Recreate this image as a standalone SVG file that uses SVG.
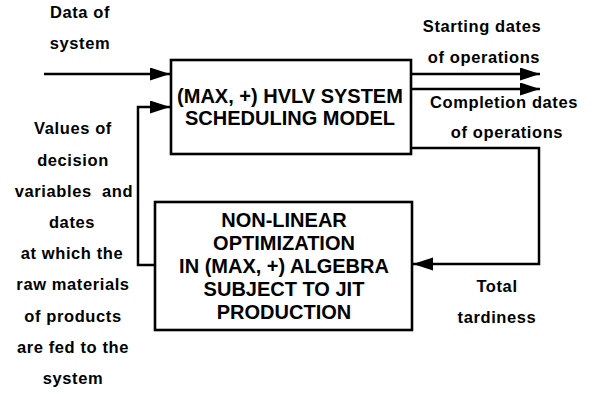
<svg xmlns="http://www.w3.org/2000/svg" width="594" height="394" viewBox="0 0 594 394">
<defs>
<style>
.box{fill:#fff;stroke:#000;stroke-width:2.6}
.bt{font-family:"Liberation Sans",Arial,sans-serif;font-size:20px;font-weight:bold;fill:#000;text-anchor:middle}
.lb{font-family:"Liberation Sans",Arial,sans-serif;font-size:16.5px;font-weight:bold;fill:#000;text-anchor:middle;letter-spacing:0.6px}
.ln{fill:none;stroke:#000;stroke-width:2.5;marker-end:url(#ah)}
</style>
<marker id="ah" markerUnits="userSpaceOnUse" markerWidth="21" markerHeight="14" refX="20" refY="6.5" orient="auto">
<path d="M0,0 L20,6.5 L0,13 z" fill="#000"/>
</marker>
</defs>
<rect width="594" height="394" fill="#fff"/>
<g id="connectors">
<path class="ln" d="M44,74 H170"/>
<path class="ln" d="M156,265 H138 V107 H170"/>
<path class="ln" d="M412,74 H540"/>
<path class="ln" d="M412,89 H540"/>
<path class="ln" d="M412,148 H539 V264 H413"/>
</g>
<g id="model">
<rect class="box" x="171" y="60" width="240" height="94"/>
<text class="bt" x="290" y="103">(MAX, +) HVLV SYSTEM</text>
<text class="bt" x="290" y="125">SCHEDULING MODEL</text>
</g>
<g id="optimization">
<rect class="box" x="155" y="202" width="257" height="128"/>
<text class="bt" x="284" y="227">NON-LINEAR</text>
<text class="bt" x="284" y="250">OPTIMIZATION</text>
<text class="bt" x="284" y="273">IN (MAX, +) ALGEBRA</text>
<text class="bt" x="284" y="296">SUBJECT TO JIT</text>
<text class="bt" x="284" y="319">PRODUCTION</text>
</g>
<g id="labels">
<text class="lb" x="80" y="18">Data of</text>
<text class="lb" x="80" y="49">system</text>
<text class="lb" x="482" y="32">Starting dates</text>
<text class="lb" x="484" y="63">of operations</text>
<text class="lb" x="504" y="108">Completion dates</text>
<text class="lb" x="507" y="138">of operations</text>
<text class="lb" x="497" y="292">Total</text>
<text class="lb" x="497" y="323">tardiness</text>
<text class="lb" x="73" y="134">Values of</text>
<text class="lb" x="73" y="166">decision</text>
<text class="lb" x="74" y="197" xml:space="preserve">variables  and</text>
<text class="lb" x="72" y="228">dates</text>
<text class="lb" x="72" y="259">at which the</text>
<text class="lb" x="73" y="290">raw materials</text>
<text class="lb" x="73" y="322">of products</text>
<text class="lb" x="73" y="353">are fed to the</text>
<text class="lb" x="73" y="384">system</text>
</g>
</svg>
